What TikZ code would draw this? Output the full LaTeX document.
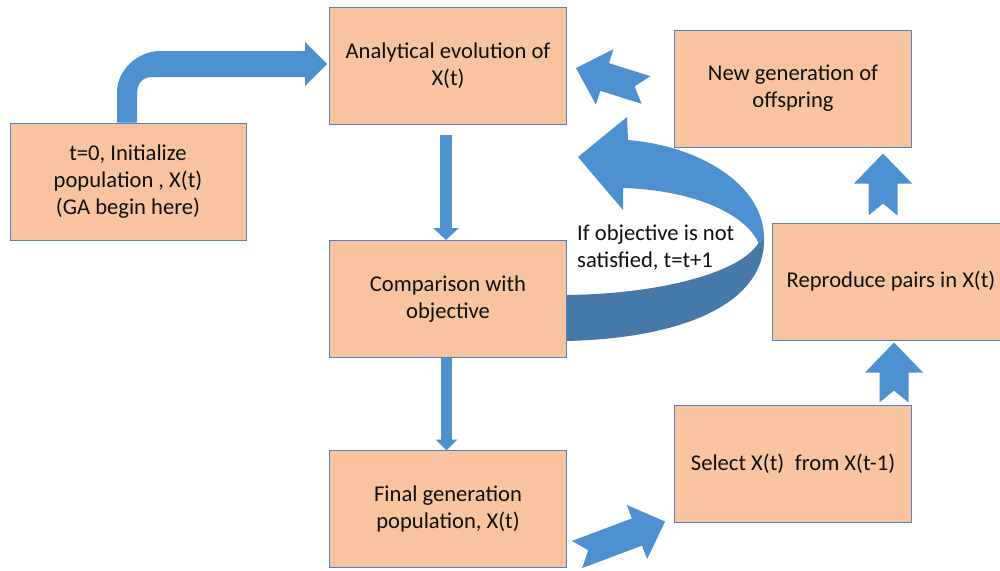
\documentclass[tikz,border=0pt]{standalone}
\usepackage{fontspec}
\setmainfont{Carlito}
\usetikzlibrary{calc,arrows.meta}

\definecolor{boxfill}{RGB}{248,196,160}
\definecolor{boxline}{RGB}{84,130,190}
\definecolor{flow}{RGB}{78,145,208}
\definecolor{flowdark}{RGB}{70,120,168}
\definecolor{ink}{RGB}{15,15,15}

% Notched block arrow from tail midpoint #1 to tip #2
\newcommand\notched[2]{%
  \fill[flow] #2 -- ($#2!30pt!#1!29pt!90:#1$) -- ($#2!30pt!#1!14.5pt!90:#1$)
    -- ($#1!14.5pt!-90:#2$) -- ($#1!12pt!#2$) -- ($#1!14.5pt!90:#2$)
    -- ($#2!30pt!#1!14.5pt!-90:#1$) -- ($#2!30pt!#1!29pt!-90:#1$) -- cycle;}

\begin{document}
\begin{tikzpicture}[x=1pt,y=-1pt,
  stage/.style={draw=boxline, line width=1pt, fill=boxfill,
    minimum width=237pt, minimum height=117pt, inner sep=0pt,
    align=center, text=ink, font=\fontsize{22.6}{27}\selectfont},
  shaftarrow/.style={draw=flow, line width=12pt,
    -{Triangle[width=25pt,length=12pt]}},
  note/.style={text=ink, font=\fontsize{22.6}{27}\selectfont,
    inner sep=0pt, align=left}]

\useasboundingbox (0,0) rectangle (1000,570);
\fill[white] (0,0) rectangle (1000,570);

% process stages
\node[stage] (anal) at (448,66) {Analytical evolution of\\X(t)};
\node[stage, minimum width=236pt] (init) at (128,181.5)
  {t=0, Initialize\\population , X(t)\\(GA begin here)};
\node[stage] (newgen) at (793,88.5) {New generation of\\offspring};
\node[stage] (comp) at (448,299) {Comparison with\\objective};
\node[stage] (repro) at (891,281.5) {Reproduce pairs in X(t)};
\node[stage] (select) at (793,463.5) {Select X(t)\hspace{0.25em} from X(t-1)};
\node[stage] (final) at (448,508.5) {Final generation\\population, X(t)};

% bent arrow: initialization into the evolution step
\fill[flow] ($(init.north)+(-11,0)$) -- (117,92)
  .. controls (117,70) and (138,51) .. (160,51) -- (305,51) -- (305,42)
  -- ($(anal.west)+(-2,-2)$) -- (305,86) -- (305,77) -- (152,77)
  .. controls (142,77) and (137,84) .. (137,94)
  -- ($(init.north)+(9,0)$) -- cycle;

% straight downward arrows
\draw[shaftarrow] ($(anal.south)+(-2,10)$) -- ($(comp.north)+(-2,0)$);
\draw[shaftarrow, line width=11pt, -{Triangle[width=21pt,length=11pt]}]
  ($(comp.south)+(-1.5,0)$) -- ($(final.north)+(-1.5,1)$);

% curved feedback arrow (lower, shaded band first)
\fill[flowdark] (567,295) .. controls (660,294) and (748,272) .. (761,238)
  -- (764,238) .. controls (766,300) and (690,338) .. (567,341) -- cycle;
\fill[flow] (578,157) -- (627,117) -- (628,140)
  .. controls (700,146) and (764,185) .. (764,238) -- (759,244)
  .. controls (745,212) and (690,190) .. (623,188) -- (623,210) -- cycle;
\node[note, anchor=west] (cond) at (577,248) {If objective is not\\satisfied, t=t+1};

% notched arrows around the reproduction loop
\coordinate (s2rtail) at ($(select.north)+(101,-2)$);
\coordinate (s2rtip)  at ($(repro.south)+(3,2)$);
\notched{(s2rtail)}{(s2rtip)}

\coordinate (r2ntail) at ($(repro.north)+(-8,-7)$);
\coordinate (r2ntip)  at ($(newgen.south)+(90,6)$);
\notched{(r2ntail)}{(r2ntip)}

\coordinate (n2atail) at ($(newgen.west)+(-28,1.5)$);
\coordinate (n2atip)  at ($(anal.east)+(9,2)$);
\notched{(n2atail)}{(n2atip)}

\coordinate (f2stail) at ($(final.east)+(10,46)$);
\coordinate (f2stip)  at ($(select.south west)+(-9,-1)$);
\notched{(f2stail)}{(f2stip)}

\end{tikzpicture}
\end{document}
